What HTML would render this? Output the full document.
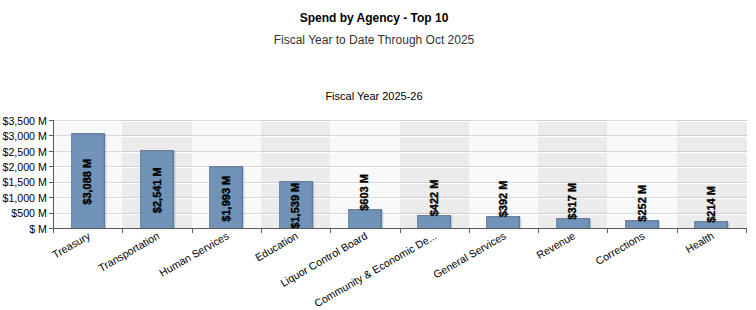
<!DOCTYPE html>
<html><head><meta charset="utf-8"><style>
html,body{margin:0;padding:0;background:#fff;}
body{width:756px;height:310px;overflow:hidden;position:relative;font-family:"Liberation Sans",sans-serif;}
.t{position:absolute;left:0;width:748px;text-align:center;white-space:nowrap;}
#title{top:11px;font-weight:bold;font-size:12px;color:#000;}
#sub{top:33px;font-size:12px;color:#333;}
#ser{top:90px;font-size:11px;color:#000;}
svg{position:absolute;left:0;top:0;}
.yl{font-size:10.67px;fill:#000;}
.dl{font-size:11px;font-weight:bold;fill:#000;stroke:#000;stroke-width:0.35px;}
.xl{font-size:10.67px;fill:#000;}
</style></head><body>
<div class="t" id="title">Spend by Agency - Top 10</div>
<div class="t" id="sub">Fiscal Year to Date Through Oct 2025</div>
<div class="t" id="ser">Fiscal Year 2025-26</div>
<svg width="756" height="310" viewBox="0 0 756 310" font-family="Liberation Sans, sans-serif" shape-rendering="crispEdges">
<rect x="53" y="120" width="69" height="108" fill="#f9f9f9"/>
<rect x="122" y="120" width="70" height="108" fill="#ebebeb"/>
<rect x="192" y="120" width="69" height="108" fill="#f9f9f9"/>
<rect x="261" y="120" width="69" height="108" fill="#ebebeb"/>
<rect x="330" y="120" width="70" height="108" fill="#f9f9f9"/>
<rect x="400" y="120" width="69" height="108" fill="#ebebeb"/>
<rect x="469" y="120" width="69" height="108" fill="#f9f9f9"/>
<rect x="538" y="120" width="69" height="108" fill="#ebebeb"/>
<rect x="607" y="120" width="70" height="108" fill="#f9f9f9"/>
<rect x="677" y="120" width="70" height="108" fill="#ebebeb"/>
<rect x="53" y="213" width="694" height="1" fill="#000" fill-opacity="0.12"/>
<rect x="53" y="214" width="694" height="1" fill="#fefefe"/>
<rect x="53" y="197" width="694" height="1" fill="#000" fill-opacity="0.12"/>
<rect x="53" y="198" width="694" height="1" fill="#fefefe"/>
<rect x="53" y="182" width="694" height="1" fill="#000" fill-opacity="0.12"/>
<rect x="53" y="183" width="694" height="1" fill="#fefefe"/>
<rect x="53" y="166" width="694" height="1" fill="#000" fill-opacity="0.12"/>
<rect x="53" y="167" width="694" height="1" fill="#fefefe"/>
<rect x="53" y="151" width="694" height="1" fill="#000" fill-opacity="0.12"/>
<rect x="53" y="152" width="694" height="1" fill="#fefefe"/>
<rect x="53" y="135" width="694" height="1" fill="#000" fill-opacity="0.12"/>
<rect x="53" y="136" width="694" height="1" fill="#fefefe"/>
<rect x="53" y="120" width="694" height="1" fill="#000" fill-opacity="0.12"/>
<rect x="53" y="121" width="694" height="1" fill="#fefefe"/>
<rect x="105" y="134" width="1" height="94" fill="#1e3c64" fill-opacity="0.2"/>
<rect x="106" y="135" width="1" height="93" fill="#1e3c64" fill-opacity="0.08"/>
<rect x="71" y="133" width="34" height="95" fill="#7193b8"/>
<rect x="71" y="133" width="34" height="1" fill="#6c7f9e"/>
<rect x="72" y="134" width="32" height="1" fill="#6e8db2"/>
<rect x="71" y="133" width="1" height="95" fill="#7585a3"/>
<rect x="103" y="134" width="1" height="94" fill="#6a88ae"/>
<rect x="104" y="133" width="1" height="95" fill="#60779a"/>
<rect x="72" y="213" width="32" height="1" fill="#000" fill-opacity="0.03"/>
<rect x="72" y="214" width="32" height="1" fill="#fff" fill-opacity="0.03"/>
<rect x="72" y="197" width="32" height="1" fill="#000" fill-opacity="0.03"/>
<rect x="72" y="198" width="32" height="1" fill="#fff" fill-opacity="0.03"/>
<rect x="72" y="182" width="32" height="1" fill="#000" fill-opacity="0.03"/>
<rect x="72" y="183" width="32" height="1" fill="#fff" fill-opacity="0.03"/>
<rect x="72" y="166" width="32" height="1" fill="#000" fill-opacity="0.03"/>
<rect x="72" y="167" width="32" height="1" fill="#fff" fill-opacity="0.03"/>
<rect x="72" y="151" width="32" height="1" fill="#000" fill-opacity="0.03"/>
<rect x="72" y="152" width="32" height="1" fill="#fff" fill-opacity="0.03"/>
<rect x="72" y="135" width="32" height="1" fill="#000" fill-opacity="0.03"/>
<rect x="72" y="136" width="32" height="1" fill="#fff" fill-opacity="0.03"/>
<rect x="174" y="151" width="1" height="77" fill="#1e3c64" fill-opacity="0.2"/>
<rect x="175" y="152" width="1" height="76" fill="#1e3c64" fill-opacity="0.08"/>
<rect x="140" y="150" width="34" height="78" fill="#7193b8"/>
<rect x="140" y="150" width="34" height="1" fill="#6c7f9e"/>
<rect x="141" y="151" width="32" height="1" fill="#6e8db2"/>
<rect x="140" y="150" width="1" height="78" fill="#7585a3"/>
<rect x="172" y="151" width="1" height="77" fill="#6a88ae"/>
<rect x="173" y="150" width="1" height="78" fill="#60779a"/>
<rect x="141" y="213" width="32" height="1" fill="#000" fill-opacity="0.03"/>
<rect x="141" y="214" width="32" height="1" fill="#fff" fill-opacity="0.03"/>
<rect x="141" y="197" width="32" height="1" fill="#000" fill-opacity="0.03"/>
<rect x="141" y="198" width="32" height="1" fill="#fff" fill-opacity="0.03"/>
<rect x="141" y="182" width="32" height="1" fill="#000" fill-opacity="0.03"/>
<rect x="141" y="183" width="32" height="1" fill="#fff" fill-opacity="0.03"/>
<rect x="141" y="166" width="32" height="1" fill="#000" fill-opacity="0.03"/>
<rect x="141" y="167" width="32" height="1" fill="#fff" fill-opacity="0.03"/>
<rect x="243" y="167" width="1" height="61" fill="#1e3c64" fill-opacity="0.2"/>
<rect x="244" y="168" width="1" height="60" fill="#1e3c64" fill-opacity="0.08"/>
<rect x="209" y="166" width="34" height="62" fill="#7193b8"/>
<rect x="209" y="166" width="34" height="1" fill="#6c7f9e"/>
<rect x="210" y="167" width="32" height="1" fill="#6e8db2"/>
<rect x="209" y="166" width="1" height="62" fill="#7585a3"/>
<rect x="241" y="167" width="1" height="61" fill="#6a88ae"/>
<rect x="242" y="166" width="1" height="62" fill="#60779a"/>
<rect x="210" y="213" width="32" height="1" fill="#000" fill-opacity="0.03"/>
<rect x="210" y="214" width="32" height="1" fill="#fff" fill-opacity="0.03"/>
<rect x="210" y="197" width="32" height="1" fill="#000" fill-opacity="0.03"/>
<rect x="210" y="198" width="32" height="1" fill="#fff" fill-opacity="0.03"/>
<rect x="210" y="182" width="32" height="1" fill="#000" fill-opacity="0.03"/>
<rect x="210" y="183" width="32" height="1" fill="#fff" fill-opacity="0.03"/>
<rect x="313" y="182" width="1" height="46" fill="#1e3c64" fill-opacity="0.2"/>
<rect x="314" y="183" width="1" height="45" fill="#1e3c64" fill-opacity="0.08"/>
<rect x="279" y="181" width="34" height="47" fill="#7193b8"/>
<rect x="279" y="181" width="34" height="1" fill="#6c7f9e"/>
<rect x="280" y="182" width="32" height="1" fill="#6e8db2"/>
<rect x="279" y="181" width="1" height="47" fill="#7585a3"/>
<rect x="311" y="182" width="1" height="46" fill="#6a88ae"/>
<rect x="312" y="181" width="1" height="47" fill="#60779a"/>
<rect x="280" y="213" width="32" height="1" fill="#000" fill-opacity="0.03"/>
<rect x="280" y="214" width="32" height="1" fill="#fff" fill-opacity="0.03"/>
<rect x="280" y="197" width="32" height="1" fill="#000" fill-opacity="0.03"/>
<rect x="280" y="198" width="32" height="1" fill="#fff" fill-opacity="0.03"/>
<rect x="382" y="210" width="1" height="18" fill="#1e3c64" fill-opacity="0.2"/>
<rect x="383" y="211" width="1" height="17" fill="#1e3c64" fill-opacity="0.08"/>
<rect x="348" y="209" width="34" height="19" fill="#7193b8"/>
<rect x="348" y="209" width="34" height="1" fill="#6c7f9e"/>
<rect x="349" y="210" width="32" height="1" fill="#6e8db2"/>
<rect x="348" y="209" width="1" height="19" fill="#7585a3"/>
<rect x="380" y="210" width="1" height="18" fill="#6a88ae"/>
<rect x="381" y="209" width="1" height="19" fill="#60779a"/>
<rect x="349" y="213" width="32" height="1" fill="#000" fill-opacity="0.03"/>
<rect x="349" y="214" width="32" height="1" fill="#fff" fill-opacity="0.03"/>
<rect x="451" y="216" width="1" height="12" fill="#1e3c64" fill-opacity="0.2"/>
<rect x="452" y="217" width="1" height="11" fill="#1e3c64" fill-opacity="0.08"/>
<rect x="417" y="215" width="34" height="13" fill="#7193b8"/>
<rect x="417" y="215" width="34" height="1" fill="#6c7f9e"/>
<rect x="418" y="216" width="32" height="1" fill="#6e8db2"/>
<rect x="417" y="215" width="1" height="13" fill="#7585a3"/>
<rect x="449" y="216" width="1" height="12" fill="#6a88ae"/>
<rect x="450" y="215" width="1" height="13" fill="#60779a"/>
<rect x="520" y="217" width="1" height="11" fill="#1e3c64" fill-opacity="0.2"/>
<rect x="521" y="218" width="1" height="10" fill="#1e3c64" fill-opacity="0.08"/>
<rect x="486" y="216" width="34" height="12" fill="#7193b8"/>
<rect x="486" y="216" width="34" height="1" fill="#6c7f9e"/>
<rect x="487" y="217" width="32" height="1" fill="#6e8db2"/>
<rect x="486" y="216" width="1" height="12" fill="#7585a3"/>
<rect x="518" y="217" width="1" height="11" fill="#6a88ae"/>
<rect x="519" y="216" width="1" height="12" fill="#60779a"/>
<rect x="590" y="219" width="1" height="9" fill="#1e3c64" fill-opacity="0.2"/>
<rect x="591" y="220" width="1" height="8" fill="#1e3c64" fill-opacity="0.08"/>
<rect x="556" y="218" width="34" height="10" fill="#7193b8"/>
<rect x="556" y="218" width="34" height="1" fill="#6c7f9e"/>
<rect x="557" y="219" width="32" height="1" fill="#6e8db2"/>
<rect x="556" y="218" width="1" height="10" fill="#7585a3"/>
<rect x="588" y="219" width="1" height="9" fill="#6a88ae"/>
<rect x="589" y="218" width="1" height="10" fill="#60779a"/>
<rect x="659" y="221" width="1" height="7" fill="#1e3c64" fill-opacity="0.2"/>
<rect x="660" y="222" width="1" height="6" fill="#1e3c64" fill-opacity="0.08"/>
<rect x="625" y="220" width="34" height="8" fill="#7193b8"/>
<rect x="625" y="220" width="34" height="1" fill="#6c7f9e"/>
<rect x="626" y="221" width="32" height="1" fill="#6e8db2"/>
<rect x="625" y="220" width="1" height="8" fill="#7585a3"/>
<rect x="657" y="221" width="1" height="7" fill="#6a88ae"/>
<rect x="658" y="220" width="1" height="8" fill="#60779a"/>
<rect x="728" y="222" width="1" height="6" fill="#1e3c64" fill-opacity="0.2"/>
<rect x="729" y="223" width="1" height="5" fill="#1e3c64" fill-opacity="0.08"/>
<rect x="694" y="221" width="34" height="7" fill="#7193b8"/>
<rect x="694" y="221" width="34" height="1" fill="#6c7f9e"/>
<rect x="695" y="222" width="32" height="1" fill="#6e8db2"/>
<rect x="694" y="221" width="1" height="7" fill="#7585a3"/>
<rect x="726" y="222" width="1" height="6" fill="#6a88ae"/>
<rect x="727" y="221" width="1" height="7" fill="#60779a"/>
<rect x="53" y="120" width="1" height="113" fill="#5a5a5a"/>
<rect x="53" y="228" width="694" height="1" fill="#5a5a5a"/>
<rect x="49" y="228" width="4" height="1" fill="#5a5a5a"/>
<rect x="49" y="213" width="4" height="1" fill="#5a5a5a"/>
<rect x="49" y="197" width="4" height="1" fill="#5a5a5a"/>
<rect x="49" y="182" width="4" height="1" fill="#5a5a5a"/>
<rect x="49" y="166" width="4" height="1" fill="#5a5a5a"/>
<rect x="49" y="151" width="4" height="1" fill="#5a5a5a"/>
<rect x="49" y="135" width="4" height="1" fill="#5a5a5a"/>
<rect x="49" y="120" width="4" height="1" fill="#5a5a5a"/>
<rect x="53" y="228" width="1" height="5" fill="#5a5a5a"/>
<rect x="122" y="228" width="1" height="5" fill="#5a5a5a"/>
<rect x="192" y="228" width="1" height="5" fill="#5a5a5a"/>
<rect x="261" y="228" width="1" height="5" fill="#5a5a5a"/>
<rect x="330" y="228" width="1" height="5" fill="#5a5a5a"/>
<rect x="400" y="228" width="1" height="5" fill="#5a5a5a"/>
<rect x="469" y="228" width="1" height="5" fill="#5a5a5a"/>
<rect x="538" y="228" width="1" height="5" fill="#5a5a5a"/>
<rect x="607" y="228" width="1" height="5" fill="#5a5a5a"/>
<rect x="677" y="228" width="1" height="5" fill="#5a5a5a"/>
<rect x="746" y="228" width="1" height="5" fill="#5a5a5a"/>
<text x="46.9" y="232.7" text-anchor="end" class="yl">$ M</text>
<text x="46.9" y="217.3" text-anchor="end" class="yl">$500 M</text>
<text x="46.9" y="201.8" text-anchor="end" class="yl">$1,000 M</text>
<text x="46.9" y="186.4" text-anchor="end" class="yl">$1,500 M</text>
<text x="46.9" y="171.0" text-anchor="end" class="yl">$2,000 M</text>
<text x="46.9" y="155.6" text-anchor="end" class="yl">$2,500 M</text>
<text x="46.9" y="140.1" text-anchor="end" class="yl">$3,000 M</text>
<text x="46.9" y="124.7" text-anchor="end" class="yl">$3,500 M</text>
<text transform="translate(91.2,181.8) rotate(-90)" text-anchor="middle" class="dl">$3,088 M</text>
<text transform="translate(160.5,190.2) rotate(-90)" text-anchor="middle" class="dl">$2,541 M</text>
<text transform="translate(229.8,198.7) rotate(-90)" text-anchor="middle" class="dl">$1,993 M</text>
<text transform="translate(299.1,205.7) rotate(-90)" text-anchor="middle" class="dl">$1,539 M</text>
<text transform="translate(368.4,192.4) rotate(-90)" text-anchor="middle" class="dl">$603 M</text>
<text transform="translate(437.8,198.0) rotate(-90)" text-anchor="middle" class="dl">$422 M</text>
<text transform="translate(507.1,199.0) rotate(-90)" text-anchor="middle" class="dl">$392 M</text>
<text transform="translate(576.4,201.3) rotate(-90)" text-anchor="middle" class="dl">$317 M</text>
<text transform="translate(645.6,203.3) rotate(-90)" text-anchor="middle" class="dl">$252 M</text>
<text transform="translate(715.0,204.4) rotate(-90)" text-anchor="middle" class="dl">$214 M</text>
<text transform="translate(91.2,238) rotate(-30)" text-anchor="end" class="xl">Treasury</text>
<text transform="translate(160.4,238) rotate(-30)" text-anchor="end" class="xl">Transportation</text>
<text transform="translate(229.8,238) rotate(-30)" text-anchor="end" class="xl">Human Services</text>
<text transform="translate(299.0,238) rotate(-30)" text-anchor="end" class="xl">Education</text>
<text transform="translate(368.3,238) rotate(-30)" text-anchor="end" class="xl">Liquor Control Board</text>
<text transform="translate(437.6,238) rotate(-30)" text-anchor="end" class="xl">Community &amp; Economic De...</text>
<text transform="translate(506.9,238) rotate(-30)" text-anchor="end" class="xl">General Services</text>
<text transform="translate(576.2,238) rotate(-30)" text-anchor="end" class="xl">Revenue</text>
<text transform="translate(645.5,238) rotate(-30)" text-anchor="end" class="xl">Corrections</text>
<text transform="translate(714.9,238) rotate(-30)" text-anchor="end" class="xl">Health</text>
</svg>
</body></html>
